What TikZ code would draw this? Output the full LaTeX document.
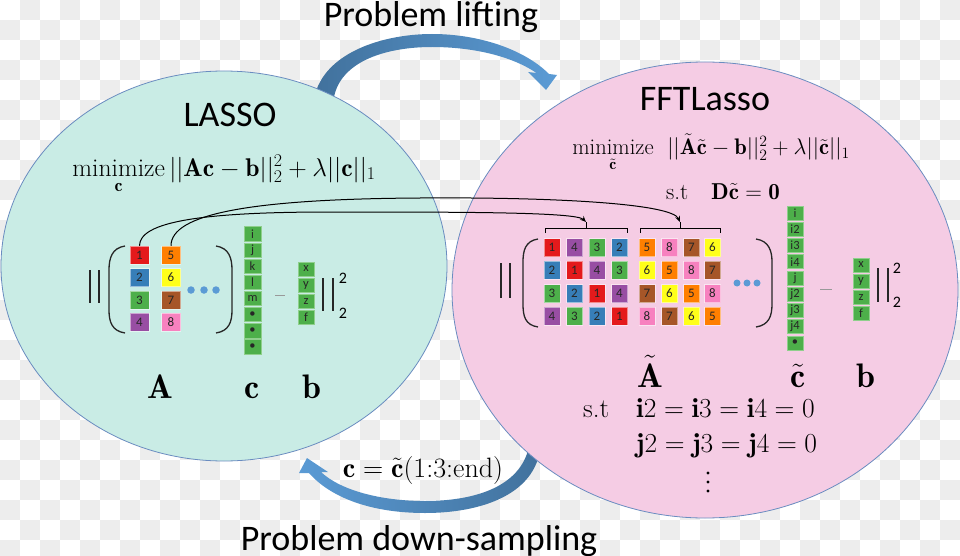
\RequirePackage{fix-cm}
\documentclass[tikz,border=0pt]{standalone}
\usepackage{amsmath}
\usepackage{fontspec}
\newfontfamily\carl{Carlito}
\usetikzlibrary{arrows.meta}
\definecolor{c1}{HTML}{E41A1C}
\definecolor{c2}{HTML}{377EB8}
\definecolor{c3}{HTML}{4DAF4A}
\definecolor{c4}{HTML}{984EA3}
\definecolor{c5}{HTML}{FF7F00}
\definecolor{c6}{HTML}{FFFF1A}
\definecolor{c7}{HTML}{A65628}
\definecolor{c8}{HTML}{F781BF}
\definecolor{vgreen}{HTML}{4DAF4A}
\definecolor{vgreenl}{HTML}{8FCF8C}
\definecolor{tealfill}{HTML}{C9ECE5}
\definecolor{pinkfill}{HTML}{F5CCE4}
\definecolor{ellline}{HTML}{6A8CC0}
\definecolor{arrdark}{HTML}{41719C}
\definecolor{arrlight}{HTML}{5B9BD5}
\definecolor{dotblue}{HTML}{5B9BD5}
\definecolor{checker}{HTML}{EDEDED}
\tikzset{
  sq/.style={rectangle, inner sep=0pt, draw=white, draw opacity=0.5, line width=0.5pt,
    font=\carl\fontsize{13}{13}\selectfont, text=black!85},
  lsq/.style={sq, minimum width=19pt, minimum height=18pt},
  rsq/.style={sq, minimum width=16pt, minimum height=18pt},
  vecbox/.style={rectangle, inner sep=0pt, fill=vgreen, draw=vgreenl, line width=0.6pt,
    minimum width=17pt, minimum height=14.5pt, font=\carl\fontsize{12.5}{12.5}\selectfont, text=black!85},
  rvecbox/.style={vecbox, minimum width=16pt, minimum height=14pt},
  bigtitle/.style={font=\carl\fontsize{36}{40}\selectfont, anchor=base, inner sep=0pt},
  bar/.style={line width=1.3pt, black!85},
  paren/.style={line width=1.3pt, black!85},
  conn/.style={line width=1pt, black, -{Stealth[length=6pt,width=5pt]}},
  bracestyle/.style={line width=1pt, black},
  lab/.style={anchor=base, inner sep=0pt},
  dotc/.style={circle, fill=dotblue, inner sep=0pt, minimum size=7.5pt},
  vdot/.style={circle, fill=black, inner sep=0pt, minimum size=3.2pt},
  normsub/.style={font=\carl\fontsize{16}{16}\selectfont, inner sep=0pt},
}
\begin{document}
\begin{tikzpicture}[x=1pt,y=-1pt]
\useasboundingbox (0,0) rectangle (960,556);
\fill[white] (0,0) rectangle (960,556);
\foreach \i in {0,...,47}{\foreach \j in {0,...,27}{%
  \pgfmathtruncatemacro\k{mod(\i+\j,2)}%
  \ifnum\k=1 \fill[checker] (\i*20,\j*20) rectangle ++(20,20);\fi}}

% arrows (behind ellipses)
\shade[left color=arrdark, right color=arrlight]
  (313,108) .. controls (315,55) and (380,34) .. (432,34)
  .. controls (480,34) and (525,50) .. (549,74) -- (557,75) -- (546,90) -- (528,72) -- (536.5,73)
  .. controls (510,55) and (470,47) .. (432,47)
  .. controls (385,47) and (335,62) .. (333,105) -- cycle;
\shade[left color=arrlight, right color=arrdark]
  (541,440) .. controls (540,495) and (480,513) .. (425,513)
  .. controls (370,513) and (330,497) .. (309,473) -- (299,473) -- (307,458) -- (328,472) -- (321,472)
  .. controls (340,490) and (380,501) .. (425,501)
  .. controls (472,501) and (525,488) .. (530,440) -- cycle;

% ellipses
\draw[ellline, line width=0.8pt, fill=tealfill] (224,266) ellipse [x radius=223pt, y radius=195pt];
\draw[ellline, line width=0.8pt, fill=pinkfill] (705,290) ellipse [x radius=253pt, y radius=228pt];

% titles
\node[bigtitle] (tlift) at (431,27) {Problem lifting};
\node[bigtitle] (tdown) at (419,550) {Problem down-sampling};
\node[bigtitle] (tlasso) at (230,127) {LASSO};
\node[bigtitle] (tfft) at (705,111) {FFTLasso};

% equations
\node[anchor=base, inner sep=0pt, font=\fontsize{25.6}{30}\selectfont] (eqL) at (224,176)
  {$\underset{\mathbf{c}}{\mathrm{minimize}}\,||\mathbf{A}\mathbf{c}-\mathbf{b}||_2^2+\lambda||\mathbf{c}||_1$};
\node[anchor=base, inner sep=0pt, font=\fontsize{22.5}{26}\selectfont] (eqR) at (711,155)
  {$\underset{\tilde{\mathbf{c}}}{\mathrm{minimize}}\ \ ||\tilde{\mathbf{A}}\tilde{\mathbf{c}}-\mathbf{b}||_2^2+\lambda||\tilde{\mathbf{c}}||_1$};
\node[anchor=base, inner sep=0pt, font=\fontsize{23}{27}\selectfont] (eqD) at (723,199)
  {s.t\quad $\mathbf{D}\tilde{\mathbf{c}}=\mathbf{0}$};
\node[anchor=base, inner sep=0pt, font=\fontsize{28}{32}\selectfont] (eqC) at (423,477)
  {$\mathbf{c}=\tilde{\mathbf{c}}(1{:}3{:}\mathrm{end})$};

% left matrix
\node[lsq, fill=c1] (L1) at (139.5,255) {1};
\node[lsq, fill=c2] (L2) at (139.5,277.5) {2};
\node[lsq, fill=c3] (L3) at (139.5,300) {3};
\node[lsq, fill=c4] (L4) at (139.5,322) {4};
\node[lsq, fill=c5] (L5) at (171,255) {5};
\node[lsq, fill=c6] (L6) at (171,277.5) {6};
\node[lsq, fill=c7] (L7) at (171,300) {7};
\node[lsq, fill=c8] (L8) at (171,322) {8};
\node[dotc] (ld1) at (191,290) {};
\node[dotc] (ld2) at (204,290) {};
\node[dotc] (ld3) at (216,290) {};
\draw[paren] (125,246) .. controls (112,248) and (109,258) .. (109,270) -- (109,310) .. controls (109,322) and (112,331) .. (125,333);
\draw[paren] (216,246) .. controls (229,248) and (232,258) .. (232,270) -- (232,310) .. controls (232,322) and (229,331) .. (216,333);
\draw[bar] (90,270) -- (90,303);
\draw[bar] (99,270) -- (99,303);

% left c vector
\foreach \t [count=\k from 0] in {i,j,k,l,m,\textbullet,\textbullet,\textbullet}
  \node[vecbox] (c\k) at (252.5,234+16.1*\k) {\t};
\draw[gray!80, line width=1pt] (275,295) -- (285,295);
\foreach \t [count=\k from 0] in {x,y,z,f}
  \node[rvecbox] (b\k) at (306,269+16.2*\k) {\t};
\draw[bar] (323,278) -- (323,311);
\draw[bar] (333,278) -- (333,311);
\node[normsub] (lsup) at (343,278) {2};
\node[normsub] (lsub) at (343,313) {2};

% labels left
\node[lab, font=\fontsize{34}{38}\selectfont] (labA) at (160,398) {$\mathbf{A}$};
\node[lab, font=\fontsize{34}{38}\selectfont] (labc) at (252,398) {$\mathbf{c}$};
\node[lab, font=\fontsize{34}{38}\selectfont] (labb) at (312,398) {$\mathbf{b}$};

% right matrix
\foreach \row [count=\r] in {{1,4,3,2,5,8,7,6},{2,1,4,3,6,5,8,7},{3,2,1,4,7,6,5,8},{4,3,2,1,8,7,6,5}}{
  \foreach \n [count=\c] in \row {
    \pgfmathsetmacro\xx{{552,574.5,597,619.5,647,669.5,691.5,712.5}[\c-1]}
    \pgfmathsetmacro\yy{{247.5,270,293.5,316}[\r-1]}
    \node[rsq, fill=c\n] (R\r\c) at (\xx,\yy) {\n};
  }
}
\node[dotc, minimum size=7pt] (rd1) at (737,283) {};
\node[dotc, minimum size=7pt] (rd2) at (747,283) {};
\node[dotc, minimum size=7pt] (rd3) at (757,283) {};
\draw[paren] (538,239) .. controls (525,241) and (523,251) .. (523,262) -- (523,304) .. controls (523,316) and (525,325) .. (538,327);
\draw[paren] (756,239) .. controls (769,241) and (772,251) .. (772,262) -- (772,304) .. controls (772,316) and (769,325) .. (756,327);
\draw[bar] (501,263) -- (501,298);
\draw[bar] (510,263) -- (510,298);

% braces
\draw[bracestyle] (545,233) -- (545,228) -- (627,228) -- (627,233);
\draw[bracestyle] (586,228) -- (586,222);
\draw[bracestyle] (640,233) -- (640,228) -- (720,228) -- (720,233);
\draw[bracestyle] (680,228) -- (680,222);
\coordinate (t1) at (586,222);
\coordinate (t2) at (680,222);

% connectors
\draw[conn] (L1.north) .. controls (139.5,222) and (200,212) .. (330,212) .. controls (460,212) and (576,212) .. (t1);
\draw[conn] (L5.north) .. controls (171,214) and (250,199) .. (420,198) .. controls (560,197) and (672,204) .. (t2);

% right vectors
\foreach \t [count=\k from 0] in {i,i2,i3,i4,j,j2,j3,j4,\textbullet}
  \node[rvecbox] (ct\k) at (795,213+16.25*\k) {\t};
\draw[gray!80, line width=1pt] (820,289) -- (832,289);
\foreach \t [count=\k from 0] in {x,y,z,f}
  \node[rvecbox] (bt\k) at (861,265+16.2*\k) {\t};
\draw[bar] (878,268) -- (878,302);
\draw[bar] (888,268) -- (888,302);
\node[normsub] (rsup) at (897,268) {2};
\node[normsub] (rsub) at (897,302) {2};

% labels right
\node[lab, font=\fontsize{34}{38}\selectfont] (labAt) at (650,387) {$\tilde{\mathbf{A}}$};
\node[lab, font=\fontsize{34}{38}\selectfont] (labct) at (798,387) {$\tilde{\mathbf{c}}$};
\node[lab, font=\fontsize{34}{38}\selectfont] (labbt) at (866,387) {$\mathbf{b}$};

% constraints
\node[anchor=base west, inner sep=0pt, font=\fontsize{27}{31}\selectfont] (st) at (583,417) {s.t};
\node[anchor=base west, inner sep=0pt, font=\fontsize{27.5}{31}\selectfont] (con1) at (636,417) {$\mathbf{i}2=\mathbf{i}3=\mathbf{i}4=0$};
\node[anchor=base west, inner sep=0pt, font=\fontsize{27.5}{31}\selectfont] (con2) at (636,452) {$\mathbf{j}2=\mathbf{j}3=\mathbf{j}4=0$};
\node[vdot] (vd1) at (708,473) {};
\node[vdot] (vd2) at (708,482) {};
\node[vdot] (vd3) at (708,491) {};
\end{tikzpicture}
\end{document}
